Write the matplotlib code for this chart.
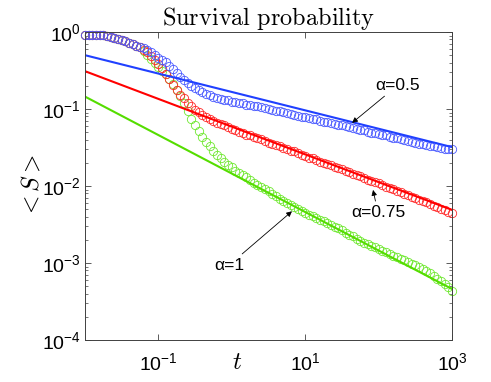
import numpy as np
import matplotlib
matplotlib.use("Agg")
import matplotlib.pyplot as plt

plt.rcParams['font.family'] = ['Liberation Sans', 'DejaVu Sans']
plt.rcParams['mathtext.fontset'] = 'cm'

# sample times (log spaced grid of the simulation output)
t = np.logspace(-2, 3, 101)

# survival probability <S>, alpha = 0.5
s_05 = [0.906, 0.906, 0.906, 0.906, 0.906, 0.906, 0.887, 0.861, 0.836, 0.811,
        0.787, 0.764, 0.730, 0.699, 0.668, 0.648, 0.629, 0.584, 0.542, 0.503,
        0.466, 0.439, 0.414, 0.367, 0.331, 0.293, 0.264, 0.238, 0.218, 0.202,
        0.187, 0.177, 0.166, 0.159, 0.152, 0.145, 0.139, 0.135, 0.131, 0.129,
        0.125, 0.123, 0.120, 0.118, 0.114, 0.113, 0.109, 0.108, 0.105, 0.103,
        0.100, 0.0985, 0.0956, 0.0942, 0.0914, 0.0887, 0.0861, 0.0848, 0.0823, 0.0799,
        0.0787, 0.0764, 0.0742, 0.0731, 0.0709, 0.0688, 0.0678, 0.0658, 0.0648, 0.0629,
        0.0611, 0.0593, 0.0584, 0.0567, 0.0550, 0.0534, 0.0526, 0.0510, 0.0495, 0.0488,
        0.0473, 0.0459, 0.0453, 0.0439, 0.0426, 0.0420, 0.0408, 0.0396, 0.0384, 0.0378,
        0.0367, 0.0356, 0.0351, 0.0341, 0.0331, 0.0326, 0.0321, 0.0311, 0.0307, 0.0302,
        0.0298]

# alpha = 0.75
s_075 = [0.906, 0.906, 0.906, 0.906, 0.906, 0.906, 0.887, 0.861, 0.836, 0.811,
         0.787, 0.764, 0.730, 0.699, 0.668, 0.639, 0.592, 0.542, 0.488, 0.439,
         0.390, 0.341, 0.289, 0.245, 0.205, 0.177, 0.154, 0.137, 0.1215, 0.1094,
         0.0985, 0.0914, 0.0848, 0.0799, 0.0753, 0.0709, 0.0668, 0.0639, 0.0611, 0.0584,
         0.0558, 0.0534, 0.0510, 0.0488, 0.0466, 0.0453, 0.0433, 0.0420, 0.0402, 0.0384,
         0.0367, 0.0356, 0.0341, 0.0326, 0.0316, 0.0302, 0.0289, 0.0281, 0.0268, 0.0256,
         0.0245, 0.0234, 0.0228, 0.0218, 0.0208, 0.0202, 0.0193, 0.0185, 0.0177, 0.0171,
         0.0164, 0.0157, 0.0150, 0.0143, 0.0139, 0.0133, 0.0127, 0.0121, 0.0116, 0.0113,
         0.0108, 0.0103, 0.00985, 0.00942, 0.00914, 0.00874, 0.00836, 0.00799, 0.00764, 0.00730,
         0.00699, 0.00668, 0.00639, 0.00611, 0.00584, 0.00558, 0.00534, 0.00510, 0.00488, 0.00466,
         0.00446]

# alpha = 1
s_1 = [0.906, 0.906, 0.906, 0.906, 0.906, 0.906, 0.887, 0.861, 0.836, 0.811,
       0.787, 0.764, 0.730, 0.699, 0.668, 0.639, 0.575, 0.510, 0.446, 0.396,
       0.351, 0.311, 0.285, 0.249, 0.214, 0.179, 0.1497, 0.1215, 0.0942, 0.0742,
       0.0611, 0.0518, 0.0433, 0.0373, 0.0326, 0.0289, 0.0256, 0.0231, 0.0208, 0.0190,
       0.0174, 0.0159, 0.0148, 0.0139, 0.0129, 0.0120, 0.0111, 0.0103, 0.00971, 0.00914,
       0.00861, 0.00799, 0.00742, 0.00688, 0.00648, 0.00601, 0.00566, 0.00534, 0.00503, 0.00473,
       0.00446, 0.00426, 0.00408, 0.00384, 0.00367, 0.00351, 0.00331, 0.00316, 0.00298, 0.00285,
       0.00268, 0.00249, 0.00234, 0.00221, 0.00205, 0.00193, 0.00182, 0.00174, 0.00166, 0.00161,
       0.00152, 0.00145, 0.00139, 0.00131, 0.00123, 0.00118, 0.00113, 0.00108, 0.00103, 0.000985,
       0.000942, 0.000901, 0.000848, 0.000799, 0.000742, 0.000688, 0.000629, 0.000584, 0.000534, 0.000488,
       0.000433]

# power-law fits, endpoints
fit_t = [1e-2, 1e3]
fit_05 = [0.50, 0.032]
fit_075 = [0.31, 0.0049]
fit_1 = [0.145, 0.00046]

fig = plt.figure(figsize=(4.91, 3.82), dpi=100)
ax = fig.add_axes([0.1731, 0.1099, 0.7475, 0.8063])

mk = dict(marker='o', linestyle='none', markersize=6, markerfacecolor='none',
          markeredgewidth=0.6, clip_on=False)
ax.plot(t, s_1, markeredgecolor='#6fe830', **mk)
ax.plot(t, s_075, markeredgecolor='#ff2a2a', **mk)
ax.plot(t, s_05, markeredgecolor='#4a5aff', **mk)

ax.plot(fit_t, fit_05, color='#2040ff', lw=1.5)
ax.plot(fit_t, fit_075, color='#ff0000', lw=1.5)
ax.plot(fit_t, fit_1, color='#55dd00', lw=1.5)

ax.set_xscale('log')
ax.set_yscale('log')
ax.set_xlim(1e-2, 1e3)
ax.set_ylim(1e-4, 1)
ax.set_xticks([1e-1, 1e1, 1e3])
ax.xaxis.set_minor_locator(matplotlib.ticker.NullLocator())
ax.set_yticks([1e-4, 1e-3, 1e-2, 1e-1, 1])

ax.tick_params(which='both', direction='in', top=True, right=True,
               labelsize=14, colors='#404040', labelcolor='black')
ax.tick_params(which='major', length=4, width=0.6)
ax.tick_params(which='minor', length=2.5, width=0.5)
ax.tick_params(axis='y', pad=3)
ax.tick_params(axis='x', pad=9)
for sp in ax.spines.values():
    sp.set_color('#404040')
    sp.set_linewidth(0.7)

ax.set_title(r'$\mathrm{Survival\ probability}$', fontsize=17.5, pad=3)
ax.set_ylabel(r'$<S>$', fontsize=17, labelpad=-1)
ax.text(0.415, -0.07, r'$t$', transform=ax.transAxes, fontsize=18,
        ha='center', va='center')

arr = dict(arrowstyle='-|>', color='black', lw=0.6, mutation_scale=8, shrinkA=1, shrinkB=0)
ax.annotate('α=0.5', xy=(43.5, 0.066), xytext=(184, 0.205), fontsize=12.5,
            ha='center', va='center', arrowprops=arr)
ax.annotate('α=0.75', xy=(84, 0.0089), xytext=(98, 0.0045), fontsize=12.5,
            ha='center', va='center', arrowprops=arr)
ax.annotate('α=1', xy=(6.6, 0.0047), xytext=(0.92, 0.00094), fontsize=12.5,
            ha='center', va='center', arrowprops=arr)

fig.savefig('out.png', dpi=100)
